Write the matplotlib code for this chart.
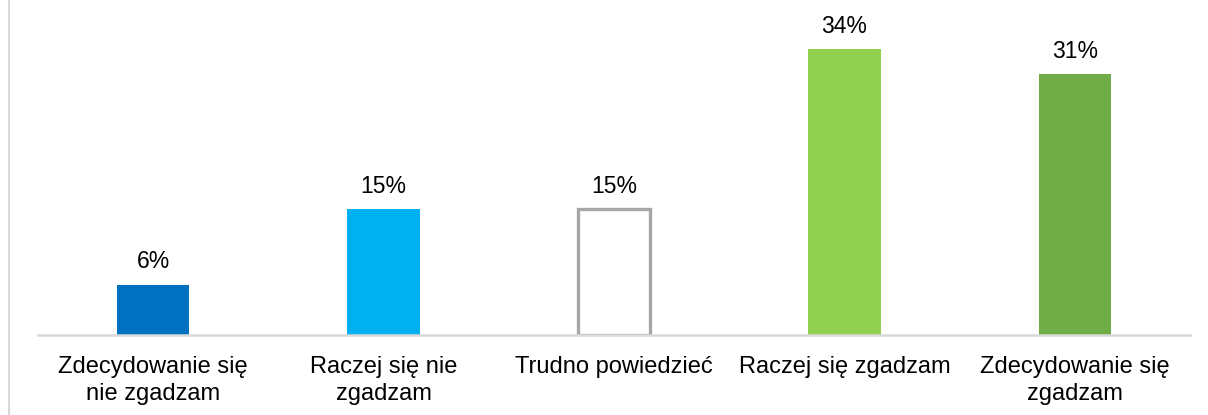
import matplotlib.pyplot as plt
from matplotlib.lines import Line2D

plt.rcParams['font.family'] = ['Liberation Sans', 'DejaVu Sans']

categories = ['Zdecydowanie się\nnie zgadzam', 'Raczej się nie\nzgadzam', 'Trudno powiedzieć',
              'Raczej się zgadzam', 'Zdecydowanie się\nzgadzam']
values = [6, 15, 15, 34, 31]
labels = ['6%', '15%', '15%', '34%', '31%']
colors = ['#0070C0', '#00B0F0', '#FFFFFF', '#92D050', '#70AD47']
edges = ['none', 'none', '#A6A6A6', 'none', 'none']

fig = plt.figure(figsize=(12.08, 4.15), dpi=100)
ax = fig.add_axes([38 / 1208, 80 / 415, 1152 / 1208, 325 / 415])

x = range(len(values))
for i, (v, c, e) in enumerate(zip(values, colors, edges)):
    lw = 2.4 if e != 'none' else 0
    ax.bar(i, v, width=0.315, color=c, edgecolor=e, linewidth=lw, zorder=2)
    ax.annotate(labels[i], (i, v), xytext=(0, 8), textcoords='offset points',
                ha='center', va='bottom', fontsize=16.5, color='#000000')

ax.set_xlim(-0.5, 4.5)
ax.set_ylim(0, 325 / 8.41)
ax.set_xticks(list(x))
ax.set_xticklabels(categories, fontsize=17, linespacing=1.3)
ax.tick_params(axis='x', length=0, pad=15)
ax.set_yticks([])
for s in ['top', 'right', 'left']:
    ax.spines[s].set_visible(False)
ax.spines['bottom'].set_color('#D9D9D9')
ax.spines['bottom'].set_linewidth(1.8)

# thin frame line at the left edge of the picture
fig.add_artist(Line2D([8.5 / 1208, 8.5 / 1208], [0, 1], color='#D9D9D9', linewidth=1.5,
                      transform=fig.transFigure))

fig.savefig('out.png', dpi=100)
